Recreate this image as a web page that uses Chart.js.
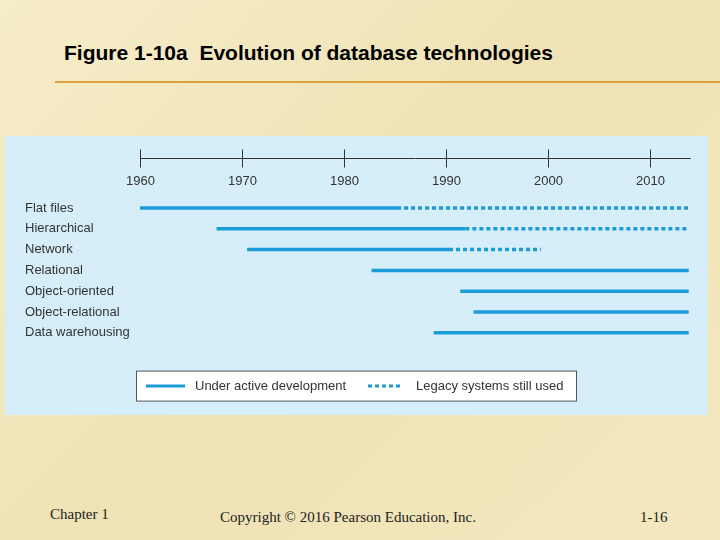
<!DOCTYPE html>
<html><head><meta charset="utf-8">
<script src="https://cdn.jsdelivr.net/npm/chart.js@4"></script>
<style>
body{margin:0;width:720px;height:540px;overflow:hidden;background:linear-gradient(135deg,#f6edc9,#efe2b4 50%,#f4e8c0);position:relative;font-family:"Liberation Sans",Arial,sans-serif}
#title{position:absolute;left:64px;top:41px;font-size:21px;font-weight:bold;color:#000}
#rule{position:absolute;left:55px;top:81px;width:665px;height:2px;background:#e0a040}
#panel{position:absolute;left:5px;top:136px;width:703px;height:279px;background:#d5eef9}
.foot{position:absolute;font-family:"Liberation Serif","Times New Roman",serif;font-size:15px;color:#222}
</style></head><body>
<div id="title">Figure 1-10a&nbsp; Evolution of database technologies</div>
<div id="rule"></div>
<div id="panel"><canvas id="c" width="703" height="279"></canvas></div>
<div class="foot" style="left:50px;top:506px">Chapter 1</div>
<div class="foot" style="left:220px;top:509px">Copyright © 2016 Pearson Education, Inc.</div>
<div class="foot" style="left:640px;top:509px">1-16</div>
<script>
const categories = ["Flat files","Hierarchical","Network","Relational","Object-oriented","Object-relational","Data warehousing"];
const activeStart = [1960, 1967.5, 1970.5, 1982.7, 1991.4, 1992.7, 1988.8];
const activeEnd   = [1985.2, 1991.9, 1990.3, 2013.8, 2013.8, 2013.8, 2013.8];
const legacyEnd   = [2013.8, 2013.8, 1999.3, null, null, null, null];
const yearTicks = [1960, 1970, 1980, 1990, 2000, 2010];
const blue = "#1b9bd7";

const datasets = [];
categories.forEach((c, i) => {
  datasets.push({data: [{x: activeStart[i], y: i}, {x: activeEnd[i], y: i}], borderColor: blue, borderWidth: 3.5, showLine: true, pointRadius: 0});
  if (legacyEnd[i] != null)
    datasets.push({data: [{x: activeEnd[i], y: i}, {x: legacyEnd[i], y: i}], borderColor: blue, borderWidth: 3.5, borderDash: [4, 3], showLine: true, pointRadius: 0});
});

const decor = {
  id: "decor",
  afterDraw(chart) {
    const ctx = chart.ctx, xs = chart.scales.x, ys = chart.scales.y;
    ctx.save();
    ctx.strokeStyle = "#333"; ctx.lineWidth = 1;
    const ay = Math.round(ys.getPixelForValue(-2.4)) + 0.5;
    ctx.beginPath(); ctx.moveTo(xs.getPixelForValue(1960), ay); ctx.lineTo(xs.getPixelForValue(2014), ay); ctx.stroke();
    ctx.fillStyle = "#333"; ctx.font = "13px 'Liberation Sans', Arial"; ctx.textAlign = "center"; ctx.textBaseline = "middle";
    yearTicks.forEach(t => {
      const px = Math.round(xs.getPixelForValue(t)) + 0.5;
      ctx.beginPath(); ctx.moveTo(px, ay - 9); ctx.lineTo(px, ay + 9); ctx.stroke();
      ctx.fillText(String(t), px, ys.getPixelForValue(-1.3));
    });
    ctx.textAlign = "left";
    categories.forEach((c, i) => ctx.fillText(c, 20, ys.getPixelForValue(i)));
    const ly = ys.getPixelForValue(8.56);
    ctx.fillStyle = "#fff"; ctx.fillRect(131.5, ly - 15, 440, 30);
    ctx.strokeStyle = "#555"; ctx.strokeRect(131.5, ly - 15, 440, 30);
    ctx.strokeStyle = blue; ctx.lineWidth = 3;
    ctx.beginPath(); ctx.moveTo(141, ly); ctx.lineTo(180, ly); ctx.stroke();
    ctx.setLineDash([4, 3]);
    ctx.beginPath(); ctx.moveTo(363, ly); ctx.lineTo(398, ly); ctx.stroke();
    ctx.setLineDash([]);
    ctx.fillStyle = "#333";
    ctx.fillText("Under active development", 190, ly);
    ctx.fillText("Legacy systems still used", 411, ly);
    ctx.restore();
  }
};

new Chart(document.getElementById("c"), {
  type: "scatter",
  data: {datasets},
  options: {
    responsive: false, animation: false,
    layout: {padding: 0},
    plugins: {legend: {display: false}, tooltip: {enabled: false}},
    scales: {
      x: {type: "linear", min: 1946.76, max: 2015.69, display: false},
      y: {type: "linear", min: -3.46, max: 9.95, reverse: true, display: false}
    }
  },
  plugins: [decor]
});
</script>
</body></html>
